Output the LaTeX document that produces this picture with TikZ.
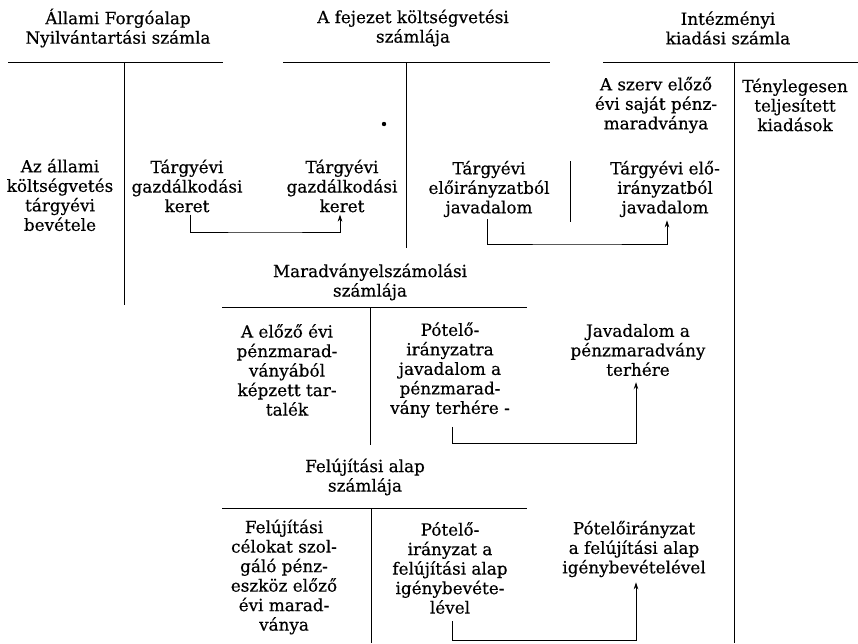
\documentclass[tikz,border=0pt]{standalone}
\usepackage{fontspec}
\setmainfont{DejaVu Serif}[FakeBold=0.4]
\usetikzlibrary{arrows.meta}
\begin{document}
\begin{tikzpicture}[x=1pt,y=-1pt,
  txt/.style={align=center, inner sep=0pt, font=\fontsize{16.8}{19.5}\selectfont},
  ln/.style={line width=0.9pt},
  arr/.style={line width=0.9pt, -{Stealth[length=7pt,width=4.5pt]}}]
\useasboundingbox (0,0) rectangle (858,643);
% headers
\node[txt] (h1) at (118,28) {Állami Forgóalap\\Nyilvántartási számla};
\node[txt] (h2) at (413,28) {A fejezet költségvetési\\számlája};
\node[txt] (h3) at (728,28) {Intézményi\\kiadási számla};
\draw[ln] (8,62) -- (223,62);
\draw[ln] (124,62) -- (124,305);
\draw[ln] (283,62) -- (550,62);
\draw[ln] (406,62) -- (406,248);
\draw[ln] (603,62) -- (858,62);
\draw[ln] (734,62) -- (734,643);
% top row
\node[txt] (szerv) at (656,105) {A szerv előző\\évi saját pénz-\\maradványa};
\node[txt] (teny) at (795,105) {Ténylegesen\\teljesített\\kiadások};
\node[txt] (bev) at (60,195) {Az állami\\költségvetés\\tárgyévi\\bevétele};
\node[txt] (gk1) at (187,186) {Tárgyévi\\gazdálkodási\\keret};
\node[txt] (gk2) at (342,186) {Tárgyévi\\gazdálkodási\\keret};
\fill (384,124) circle (2.2);
\node[txt] (jav1) at (489,189) {Tárgyévi\\előirányzatból\\javadalom};
\draw[ln] (570,161) -- (570,222);
\node[txt] (jav2) at (665,189) {Tárgyévi elő-\\irányzatból\\javadalom};
\coordinate (b1) at (265,232);
\draw[arr] ([shift={(3,2)}]gk1.south) |- (b1) -| ([shift={(-2,2)}]gk2.south);
\coordinate (b2) at (577,244);
\draw[arr] ([shift={(-2,2)}]jav1.south) |- (b2) -| ([shift={(2,3)}]jav2.south);
% Maradvany
\node[txt] (mar) at (370,282) {Maradványelszámolási\\számlája};
\draw[ln] (222,307) -- (527,307);
\draw[ln] (370,307) -- (370,445);
\node[txt] (tart) at (287,370) {A előző évi\\pénzmarad-\\ványából\\képzett tar-\\talék};
\node[txt] (pot1) at (450,370) {Pótelő-\\irányzatra\\javadalom a\\pénzmarad-\\vány terhére -};
\node[txt] (jm) at (638,350) {Javadalom a\\pénzmaradvány\\terhére};
\coordinate (b3) at (544,443);
\draw[arr] ([shift={(2,9)}]pot1.south) |- (b3) -| ([shift={(-2,6)}]jm.south);
% Felujitasi
\node[txt] (fel) at (365,477) {Felújítási alap\\számlája};
\draw[ln] (222,508) -- (527,508);
\draw[ln] (371,508) -- (371,643);
\node[txt] (fcel) at (284,577) {Felújítási\\célokat szol-\\gáló pénz-\\eszköz előző\\évi marad-\\ványa};
\node[txt] (pot2) at (450,568) {Pótelő-\\irányzat a\\felújítási alap\\igénybevéte-\\lével};
\node[txt] (pfa) at (634,549) {Pótelőirányzat\\a felújítási alap\\igénybevételével};
\coordinate (b4) at (544,640);
\draw[arr] ([shift={(2,7)}]pot2.south) |- (b4) -| ([shift={(2,5)}]pfa.south);
\end{tikzpicture}
\end{document}
